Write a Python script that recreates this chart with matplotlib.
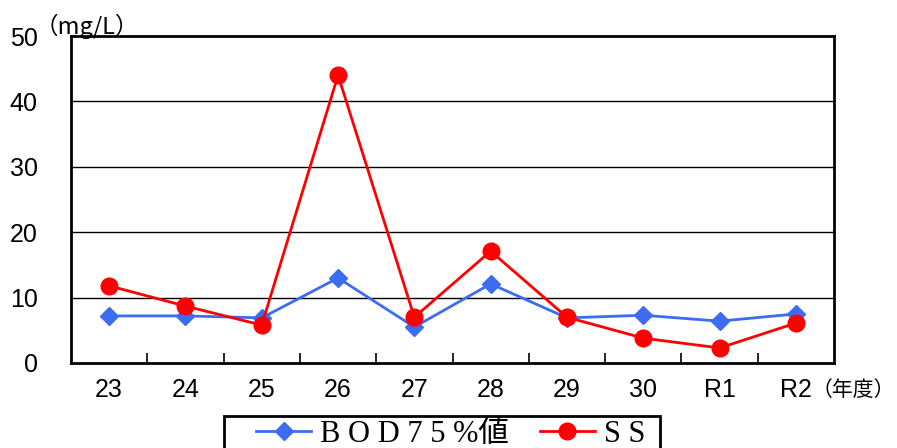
import matplotlib
matplotlib.use('Agg')
from matplotlib import pyplot as plt
from matplotlib.patches import Rectangle

years = ['23', '24', '25', '26', '27', '28', '29', '30', 'R1', 'R2']
bod75 = [7.2, 7.2, 6.9, 13.0, 5.5, 12.1, 6.9, 7.3, 6.4, 7.5]
ss = [11.8, 8.7, 5.8, 44.0, 7.0, 17.1, 7.0, 3.8, 2.3, 6.1]
yticks = [0, 10, 20, 30, 40, 50]

sans = ['Liberation Sans', 'DejaVu Sans']
gothic = ['Noto Sans CJK JP', 'DejaVu Sans']
serif = ['Liberation Serif', 'Noto Sans CJK JP']

W, H = 897, 448
fig = plt.figure(figsize=(W / 100, H / 100), dpi=100)
ax = fig.add_axes([71 / W, 1 - 363 / H, 763 / W, 327 / H])

x = list(range(len(years)))
ax.plot(x, bod75, color='#3b6cf2', lw=2, marker='D', ms=9,
        label='B O D 7 5 %値', zorder=3)
ax.plot(x, ss, color='#ff0000', lw=2, marker='o', ms=12,
        label='S S', zorder=4)

ax.set_xlim(-0.5, len(years) - 0.5)
ax.set_ylim(0, 50)
ax.set_yticks(yticks)
ax.set_yticklabels([str(v) for v in yticks], family=sans, fontsize=18)
ax.set_xticks(x)
ax.set_xticklabels(years, family=sans, fontsize=18)
ax.set_xticks([i + 0.5 for i in x[:-1]], minor=True)
ax.tick_params(axis='y', length=0, pad=24)
ax.tick_params(axis='x', which='major', length=0, pad=11)
ax.tick_params(axis='x', which='minor', direction='in', length=7, width=1.2)

for v in yticks[1:-1]:
    ax.axhline(v, color='black', lw=1, zorder=1)
for s in ax.spines.values():
    s.set_linewidth(2)
    s.set_color('black')

fig.text(35 / W, 1 - 34 / H, '（mg/L）', family=gothic, fontsize=17,
         ha='left', va='baseline')
fig.text(812 / W, 1 - 396 / H, '（年度）', family=gothic, fontsize=15,
         ha='left', va='baseline')

# legend box (drawn by hand, it runs off the bottom of the figure)
fig.patches.append(Rectangle((224 / W, -0.1), 436 / W, 0.1 + 1 - 416 / H,
                             transform=fig.transFigure, fill=False,
                             edgecolor='black', lw=2))
leg = ax.legend(loc='center left', bbox_to_anchor=(256 / W, 1 - 434 / H),
                bbox_transform=fig.transFigure, ncol=2, frameon=False,
                prop={'family': serif, 'size': 22},
                handlelength=1.8, handletextpad=0.3, columnspacing=1.0,
                borderpad=0, borderaxespad=0)

fig.savefig('out.png', dpi=100)
